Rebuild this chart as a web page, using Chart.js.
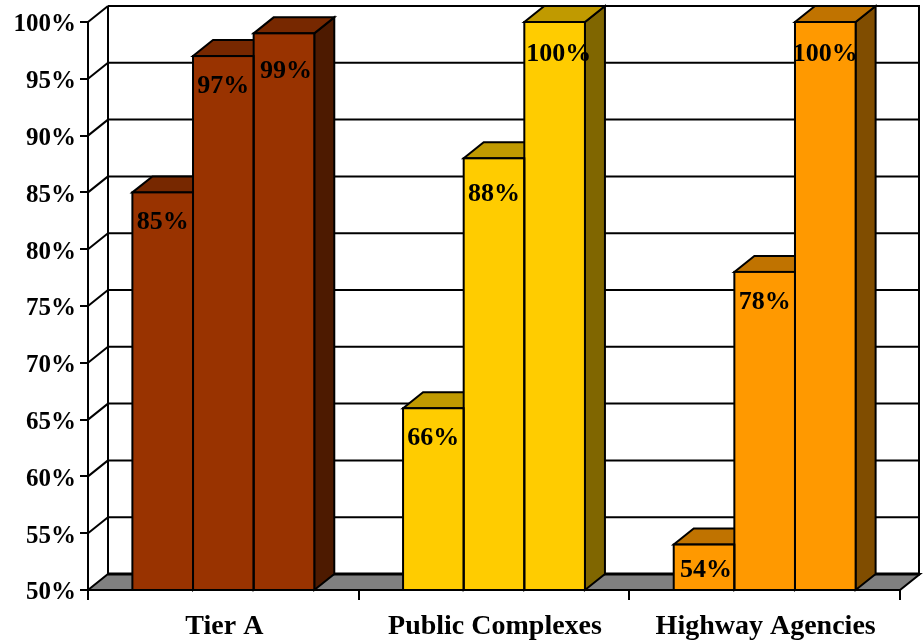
<!DOCTYPE html>
<html><head><meta charset="utf-8">
<style>html,body{margin:0;padding:0;background:#fff}#w{width:924px;height:644px}</style>
<script src="https://cdn.jsdelivr.net/npm/chart.js@4"></script>
</head><body><div id="w"><canvas id="c" width="924" height="644"></canvas></div>
<script>
const categories = ["Tier A", "Public Complexes", "Highway Agencies"];
const seriesOne = [85, 66, 54];
const seriesTwo = [97, 88, 78];
const seriesThree = [99, 100, 100];
const yMin = 50, yMax = 100, yStep = 5;

const frontColors = ["#993300", "#FFCC00", "#FF9900"];
const topColors = ["#772800", "#C09A00", "#C07300"];
const sideColors = ["#4D1A00", "#806600", "#804D00"];
const labelDrop = [[30, 30, 26], [30, 36, 30], [38, 32, 32]];
const labelShift = [[0, 0, 2], [0, 0, 0], [2, 4, 0]];
const DX = 20, DY = -16, FONT = "bold 26px 'Liberation Serif'";

const poly = (ctx, pts, fill) => {
  ctx.beginPath(); pts.forEach((p, i) => i ? ctx.lineTo(p[0], p[1]) : ctx.moveTo(p[0], p[1]));
  ctx.closePath(); ctx.fillStyle = fill; ctx.fill(); ctx.stroke();
};
const line = (ctx, a, b, c, d) => { ctx.beginPath(); ctx.moveTo(a, b); ctx.lineTo(c, d); ctx.stroke(); };

const threeD = {
  id: "threeD",
  beforeDatasetsDraw(chart) {
    const { ctx, chartArea: A, scales: { y } } = chart;
    ctx.save(); ctx.strokeStyle = "#000"; ctx.lineWidth = 2; ctx.lineJoin = "miter";
    const bot = y.getPixelForValue(yMin);
    poly(ctx, [[A.left, bot], [A.left + DX, bot + DY], [A.right + DX, bot + DY], [A.right, bot]], "#808080");
    for (const t of y.ticks) {
      const p = y.getPixelForValue(t.value);
      if (t.value > yMin) line(ctx, A.left, p, A.left + DX, p + DY);
      ctx.lineWidth = t.value === yMin ? 3 : 2;
      line(ctx, A.left + DX, p + DY, A.right + DX, p + DY);
      ctx.lineWidth = 2;
    }
    const top = y.getPixelForValue(yMax);
    line(ctx, A.left + DX, top + DY, A.left + DX, bot + DY);
    line(ctx, A.right + DX - 1, top + DY, A.right + DX - 1, bot + DY);
    chart.data.datasets.forEach((ds, d) => {
      chart.getDatasetMeta(d).data.forEach((b, i) => {
        const l = b.x - b.width / 2, r = b.x + b.width / 2;
        poly(ctx, [[r, b.y], [r + DX, b.y + DY], [r + DX, bot + DY], [r, bot]], sideColors[i]);
        poly(ctx, [[l, b.y], [l + DX, b.y + DY], [r + DX, b.y + DY], [r, b.y]], topColors[i]);
      });
    });
    ctx.restore();
  },
  afterDatasetsDraw(chart) {
    const { ctx, scales: { y } } = chart;
    const bot = y.getPixelForValue(yMin);
    ctx.save(); ctx.strokeStyle = "#000"; ctx.lineWidth = 2;
    chart.data.datasets.forEach((ds, d) => {
      chart.getDatasetMeta(d).data.forEach(b => {
        ctx.strokeRect(b.x - b.width / 2, b.y, b.width, bot - b.y);
      });
    });
    ctx.fillStyle = "#000"; ctx.font = FONT; ctx.textAlign = "center"; ctx.textBaseline = "middle";
    chart.data.datasets.forEach((ds, d) => {
      chart.getDatasetMeta(d).data.forEach((b, i) => {
        ctx.fillText(ds.data[i] + "%", b.x + labelShift[d][i], b.y + labelDrop[d][i]);
      });
    });
    ctx.restore();
  }
};

new Chart(document.getElementById("c"), {
  type: "bar",
  plugins: [threeD],
  data: {
    labels: categories,
    datasets: [seriesOne, seriesTwo, seriesThree].map(data => ({
      data, backgroundColor: frontColors, borderWidth: 0,
      barPercentage: 1, categoryPercentage: 0.672
    }))
  },
  options: {
    responsive: false, animation: false, devicePixelRatio: 1,
    layout: { padding: { top: 22, right: 24, bottom: 0, left: 0 } },
    plugins: { legend: { display: false }, tooltip: { enabled: false }, title: { display: false } },
    scales: {
      x: {
        afterFit(s) { s.height = 54; },
        border: { color: "#000", width: 2 },
        grid: { offset: true, drawOnChartArea: false, color: "#000", lineWidth: 2, tickLength: 10 },
        ticks: { color: "#000", font: { family: "Liberation Serif", weight: "bold", size: 28 }, maxRotation: 0, autoSkip: false, padding: 10, labelOffset: 1 }
      },
      y: {
        min: yMin, max: yMax,
        afterFit(s) { s.width = 88; },
        border: { color: "#000", width: 2 },
        grid: { drawOnChartArea: false, color: "#000", lineWidth: 2, tickLength: 8 },
        ticks: { stepSize: yStep, color: "#000", font: { family: "Liberation Serif", weight: "bold", size: 25 }, padding: 4, labelOffset: 3, callback: v => v + "%" }
      }
    }
  }
});
</script></body></html>
